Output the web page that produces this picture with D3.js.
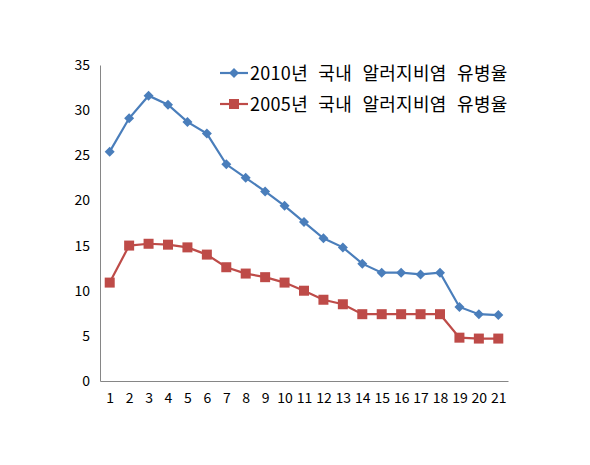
<!DOCTYPE html>
<html><head><meta charset="utf-8">
<script src="https://cdn.jsdelivr.net/npm/d3@7"></script>
<style>body{margin:0;background:#fff}text{font-family:"Noto Sans CJK KR","Liberation Sans",sans-serif}</style>
</head><body>
<svg id="chart" width="590" height="465"></svg>
<script>
var categories = d3.range(1, 22).map(String);
var series2010 = [25.4, 29.1, 31.6, 30.6, 28.7, 27.4, 24.0, 22.5, 21.0, 19.4, 17.6, 15.8, 14.8, 13.0, 12.0, 12.0, 11.8, 12.0, 8.2, 7.4, 7.3];
var series2005 = [10.9, 15.0, 15.2, 15.1, 14.8, 14.0, 12.6, 11.9, 11.5, 10.9, 10.0, 9.0, 8.5, 7.4, 7.4, 7.4, 7.4, 7.4, 4.8, 4.7, 4.7];
var yTicks = [0, 5, 10, 15, 20, 25, 30, 35];
var names = ['2010년 국내 알러지비염 유병율', '2005년 국내 알러지비염 유병율'];

var svg = d3.select('#chart');
var x = d3.scalePoint().domain(categories).range([100, 508]).padding(0.5);
var y = d3.scaleLinear().domain([0, 35]).range([381, 65]);

var yAxis = svg.append('g').attr('transform', 'translate(100,0)')
  .call(d3.axisLeft(y).tickValues(yTicks).tickSize(0).tickPadding(10));
var xAxis = svg.append('g').attr('transform', 'translate(0,381)')
  .call(d3.axisBottom(x).tickSize(0).tickPadding(12));
[yAxis, xAxis].forEach(function (a) {
  a.select('.domain').attr('stroke', '#868686');
  a.selectAll('text').attr('font-size', 14).attr('fill', '#000').attr('font-family', '"Liberation Sans",sans-serif');
});

var line = d3.line().x(function (d, i) { return x(categories[i]); }).y(function (d) { return y(d); });

function diamond(g, cx, cy, s, c) {
  g.append('path').attr('d', 'M' + cx + ',' + (cy - s) + 'L' + (cx + s) + ',' + cy + 'L' + cx + ',' + (cy + s) + 'L' + (cx - s) + ',' + cy + 'Z').attr('fill', c);
}
function square(g, cx, cy, s, c) {
  g.append('rect').attr('x', cx - s).attr('y', cy - s).attr('width', 2 * s).attr('height', 2 * s).attr('fill', c);
}

var blue = '#4a7ebb', red = '#be4b48';
svg.append('path').datum(series2010).attr('d', line).attr('fill', 'none').attr('stroke', blue).attr('stroke-width', 2.2);
var gb = svg.append('g');
series2010.forEach(function (v, i) { diamond(gb, x(categories[i]), y(v), 5, blue); });
svg.append('path').datum(series2005).attr('d', line).attr('fill', 'none').attr('stroke', red).attr('stroke-width', 2.2);
var gr = svg.append('g');
series2005.forEach(function (v, i) { square(gr, x(categories[i]), y(v), 5, red); });

// legend
var lg = svg.append('g');
[[blue, diamond, 73], [red, square, 104]].forEach(function (l, i) {
  lg.append('line').attr('x1', 220).attr('x2', 248).attr('y1', l[2]).attr('y2', l[2]).attr('stroke', l[0]).attr('stroke-width', 2.2);
  l[1](lg, 234, l[2], 5, l[0]);
  lg.append('text').attr('x', 250).attr('y', l[2] + 7).attr('font-size', 18)
    .attr('word-spacing', 6).attr('letter-spacing', 0.3).text(names[i]);
});
</script>
</body></html>
